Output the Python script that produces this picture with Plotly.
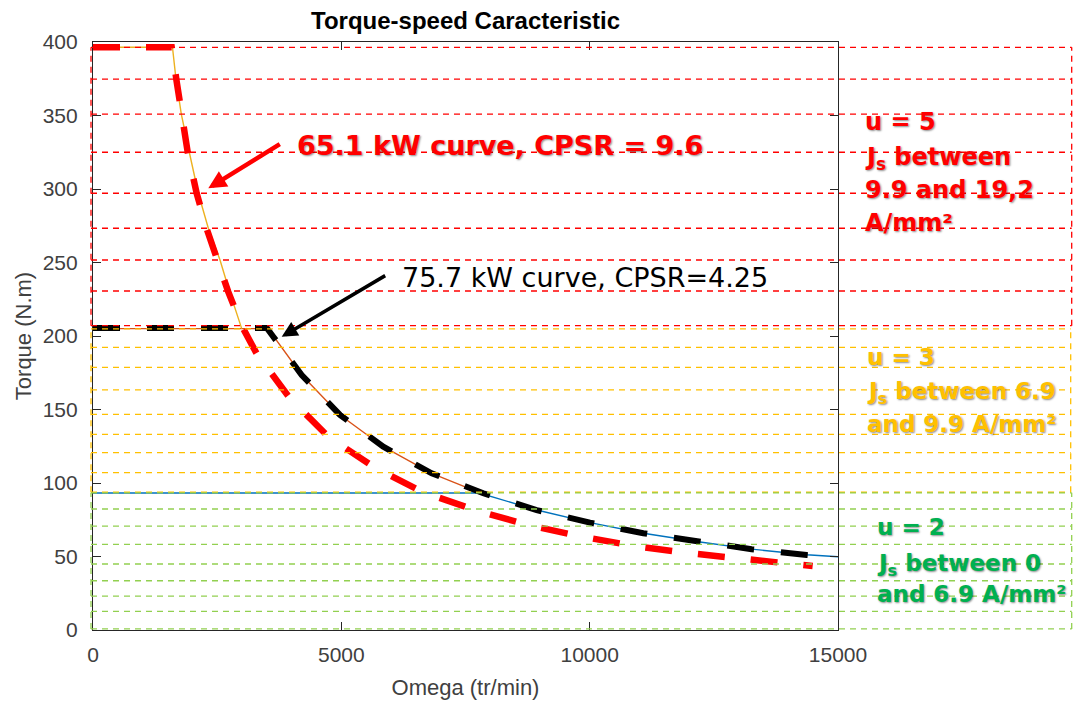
import plotly.graph_objects as go

# ---- operating curves (speed in tr/min, torque in N.m) ----
# 65.1 kW curve, CPSR = 9.6
omega_651 = [0, 1585, 1685, 1786, 1907, 2088, 2289, 2511, 2724, 2994, 3296, 3966,
             4738, 5644, 6618, 7691, 8764, 9839, 10913, 12020, 13127, 14235, 14490]
torque_651 = [396.4, 396.4, 373, 350, 325, 297, 273, 251, 230, 207, 188, 157.6,
              131.5, 111.1, 94.1, 81.6, 71.4, 63.5, 57.1, 52.2, 48.1, 44.2, 43.5]

# 75.7 kW curve, CPSR = 4.25
omega_757 = [0, 3500, 3630, 4202, 4973, 5845, 6819, 7858, 8933, 10007, 11080,
             12187, 13262, 14370, 14597]
torque_757 = [205.5, 205.5, 199.5, 173.5, 146.3, 124.7, 106.6, 93, 81.6, 73, 65.8,
              60.3, 55, 51, 50.3]

# torque envelopes for each winding configuration
omega_u5 = [0, 1600, 1671, 1778, 1939, 2120, 2322, 2557, 2745, 2994]
torque_u5 = [396.4, 396.4, 374.8, 351, 325, 297.1, 273.3, 251.7, 230.6, 205]

omega_u3 = [0, 3560, 3630, 4202, 4973, 5845, 6819, 7780]
torque_u3 = [205, 205, 200, 173.5, 146.3, 124.7, 106.6, 93.4]

omega_u2 = [0, 7780, 8933, 10007, 11080, 12187, 13262, 14370, 15000]
torque_u2 = [93.2, 93.2, 81.6, 73, 65.8, 60, 55, 51.2, 49.8]

# current-density zones: dashed torque levels
levels_u5 = [396.4, 374.8, 351, 325, 297.1, 273.3, 251.7, 230.6, 207]
levels_u3 = [204.8, 192.3, 178.7, 163.3, 146.7, 133.1, 120.6, 107, 93.7]
levels_u2 = [93.3, 82.3, 70.7, 58.3, 44.9, 33.5, 23.1, 12.7, 0.7]

x_ticks = [0, 5000, 10000, 15000]
y_ticks = [0, 50, 100, 150, 200, 250, 300, 350, 400]

W, H = 1075, 702
L, R, T, B = 93, 237, 42, 72
PW, PH = W - L - R, H - T - B


def px(xp):
    return (xp - L) / PW


def py(yp):
    return (H - B - yp) / PH


RED = "#FF0000"
ORANGE = "#FFC000"
GREEN_LINE = "#92D050"
GREEN_TEXT = "#00B050"

fig = go.Figure()

thin = [(omega_u2, torque_u2, "#0072BD"),
        (omega_u3, torque_u3, "#D95319"),
        (omega_u5, torque_u5, "#EDB120")]
for xs, ys, c in thin:
    fig.add_trace(go.Scatter(x=xs, y=ys, mode="lines",
                             line=dict(color=c, width=1.4), hoverinfo="skip"))

fig.add_trace(go.Scatter(x=omega_651, y=torque_651, mode="lines",
                         line=dict(color=RED, width=6.5, dash="27px,26px")))
fig.add_trace(go.Scatter(x=omega_757, y=torque_757, mode="lines",
                         line=dict(color="black", width=6, dash="27px,27px")))

# zone frames with their dashed levels
shapes = []
x_left = px(91)
zones = [(levels_u5, RED, px(1071.7)),
         (levels_u3, ORANGE, px(1070.7)),
         (levels_u2, GREEN_LINE, px(1071.7))]
for levels, col, x_right in zones:
    ln = dict(color=col, width=1.3, dash="6px,5px")
    for lv in levels:
        shapes.append(dict(type="line", xref="paper", yref="y", x0=x_left, x1=x_right,
                           y0=lv, y1=lv, line=ln, layer="above"))
    for xe in (x_left, x_right):
        shapes.append(dict(type="line", xref="paper", yref="y", x0=xe, x1=xe,
                           y0=levels[-1], y1=levels[0], line=ln, layer="above"))

shadow = "1px 1px 2px rgba(0,0,0,0.45)"
annotations = []

# arrows pointing at the two curves
annotations.append(dict(x=2321, y=300.5, xref="x", yref="y", ax=73, ay=-45,
                        text="", showarrow=True, arrowhead=2, arrowsize=0.8,
                        arrowwidth=4.5, arrowcolor=RED, standoff=0))
annotations.append(dict(x=3799, y=199.5, xref="x", yref="y", ax=105, ay=-62,
                        text="", showarrow=True, arrowhead=2, arrowsize=0.9,
                        arrowwidth=3.5, arrowcolor="black", standoff=0))


def label(text, x, y, color, size, bold=False, shade=True):
    f = dict(family="DejaVu Sans", size=size, color=color)
    if bold:
        f["weight"] = "bold"
    if shade:
        f["shadow"] = shadow
    annotations.append(dict(text=text, x=px(x), y=py(y), xref="paper", yref="paper",
                            xanchor="left", yanchor="middle", showarrow=False, font=f))


label("65.1 kW curve, CPSR = 9.6", 295, 145, RED, 27, bold=True)
label("75.7 kW curve, CPSR=4.25", 400, 277, "black", 27, shade=False)

label("u = 5", 863, 122, RED, 24, bold=True)
label("J<sub>s</sub> between", 863, 158, RED, 24, bold=True)
label("9.9 and 19,2", 863, 190, RED, 24, bold=True)
label("A/mm²", 863, 223, RED, 24, bold=True)

label("u = 3", 865, 357, ORANGE, 23, bold=True)
label("J<sub>s</sub> between 6.9", 865, 393, ORANGE, 23, bold=True)
label("and 9.9 A/mm²", 865, 424, ORANGE, 23, bold=True)

label("u = 2", 875, 527, GREEN_TEXT, 23, bold=True)
label("J<sub>s</sub> between 0", 875, 565, GREEN_TEXT, 23, bold=True)
label("and 6.9 A/mm²", 875, 594, GREEN_TEXT, 23, bold=True)

axis_common = dict(showgrid=False, zeroline=False, showline=True, linecolor="#262626",
                   linewidth=1.2, mirror="ticks", ticks="inside", ticklen=8,
                   tickcolor="#262626", tickwidth=1, automargin=False,
                   tickfont=dict(family="Liberation Sans", size=21, color="#404040"))

fig.update_layout(
    width=W, height=H,
    margin=dict(l=L, r=R, t=T, b=B),
    paper_bgcolor="white", plot_bgcolor="white",
    showlegend=False,
    title=dict(text="<b>Torque-speed Caracteristic</b>", x=0.5, xref="paper",
               y=1 - 21 / H, yref="container", yanchor="middle", automargin=False,
               font=dict(family="Liberation Sans", size=24, color="black")),
    xaxis=dict(range=[0, 15000], tickvals=x_ticks, ticktext=[str(v) for v in x_ticks],
               title=dict(text="Omega (tr/min)", standoff=14,
                          font=dict(family="Liberation Sans", size=22, color="#404040")),
               ticklabelstandoff=6, **axis_common),
    yaxis=dict(range=[0, 400], tickvals=y_ticks, ticktext=[str(v) for v in y_ticks],
               title=dict(text="Torque (N.m)", standoff=4,
                          font=dict(family="Liberation Sans", size=22, color="#404040")),
               ticklabelstandoff=10, **axis_common),
    shapes=shapes,
    annotations=annotations,
)

fig.write_html("out.html")
